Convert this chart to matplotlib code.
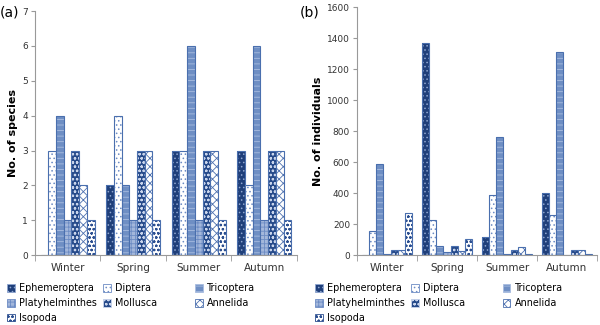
import numpy as np
import matplotlib.pyplot as plt
from matplotlib.patches import Patch

seasons = ["Winter", "Spring", "Summer", "Autumn"]
taxa = ["Ephemeroptera", "Diptera", "Tricoptera", "Platyhelminthes",
        "Mollusca", "Annelida", "Isopoda"]

# number of species per taxon, one list per taxon (Winter..Autumn)
species = {
    "Ephemeroptera": [0, 2, 3, 3],
    "Diptera": [3, 4, 3, 2],
    "Tricoptera": [4, 2, 6, 6],
    "Platyhelminthes": [1, 1, 1, 1],
    "Mollusca": [3, 3, 3, 3],
    "Annelida": [2, 3, 3, 3],
    "Isopoda": [1, 1, 1, 1],
}

# number of individuals per taxon
individuals = {
    "Ephemeroptera": [0, 1370, 120, 400],
    "Diptera": [155, 225, 385, 260],
    "Tricoptera": [585, 60, 765, 1310],
    "Platyhelminthes": [5, 20, 5, 3],
    "Mollusca": [35, 60, 30, 30],
    "Annelida": [35, 25, 50, 30],
    "Isopoda": [275, 105, 5, 10],
}

# face colour, hatch colour, hatch
styles = {
    "Ephemeroptera": ("#1f3f7a", "#8fa6d0", "...."),
    "Diptera": ("white", "#6d8cc4", "...."),
    "Tricoptera": ("#6f8fc4", "#a9bde0", "---"),
    "Platyhelminthes": ("#a3b7db", "#6d8cc4", "++++"),
    "Mollusca": ("#264a8a", "#c9d5ec", "oooo"),
    "Annelida": ("white", "#4f72b0", "xxxx"),
    "Isopoda": ("white", "#2c4f90", "oooo"),
}
outline = "#4a6fae"

plt.rcParams["font.family"] = "DejaVu Sans"
plt.rcParams["hatch.linewidth"] = 0.6

fig = plt.figure(figsize=(6, 3.25), dpi=100)
ax1 = fig.add_axes([0.058, 0.215, 0.437, 0.751])
ax2 = fig.add_axes([0.595, 0.215, 0.400, 0.763])

x = np.arange(len(seasons))
w = 0.118


def draw(ax, data, ymax, step, ylabel):
    for i, t in enumerate(taxa):
        face, hc, hatch = styles[t]
        pos = x + (i - 3) * w
        ax.bar(pos, data[t], w, color=face, edgecolor=hc, hatch=hatch, lw=0)
        ax.bar(pos, data[t], w, fill=False, edgecolor=outline, lw=0.8)
    ax.set_xlim(-0.5, 3.5)
    ax.set_ylim(0, ymax)
    ax.set_yticks(np.arange(0, ymax + 1, step))
    ax.set_xticks(x)
    ax.set_xticklabels(seasons)
    ax.set_xticks(np.arange(-0.5, 4, 1), minor=True)
    ax.tick_params(axis="x", which="major", length=0, pad=6, labelsize=7.5, colors="#333333")
    ax.tick_params(axis="x", which="minor", length=4, color="#999999")
    ax.tick_params(axis="y", length=3, color="#999999", labelsize=6.5,
                   labelcolor="#333333", pad=2)
    for s in ("top", "right"):
        ax.spines[s].set_visible(False)
    for s in ("left", "bottom"):
        ax.spines[s].set_color("#999999")
        ax.spines[s].set_linewidth(0.8)
    ax.set_ylabel(ylabel, fontsize=8, fontweight="bold", labelpad=3)


draw(ax1, species, 7, 1, "No. of species")
draw(ax2, individuals, 1600, 200, "No. of individuals")

fig.text(0.0, 0.962, "(a)", fontsize=10, va="center")
fig.text(0.5, 0.962, "(b)", fontsize=10, va="center")

# legend laid out as three separate columns under each panel
columns = [["Ephemeroptera", "Platyhelminthes", "Isopoda"],
           ["Diptera", "Mollusca"],
           ["Tricoptera", "Annelida"]]
col_x = [0.012, 0.172, 0.325]

for base in (0.0, 0.513):
    for names, cx in zip(columns, col_x):
        handles = []
        for t in names:
            face, hc, hatch = styles[t]
            handles.append(Patch(facecolor=face, edgecolor=hc, hatch=hatch,
                                 lw=0.6, label=t))
        fig.legend(handles=handles, loc="upper left",
                   bbox_to_anchor=(base + cx, 0.128), ncol=1, frameon=False,
                   fontsize=6.9, handlelength=0.8, handleheight=0.8,
                   handletextpad=0.45, labelspacing=0.5, borderpad=0,
                   borderaxespad=0)

fig.savefig("out.png", dpi=100)
